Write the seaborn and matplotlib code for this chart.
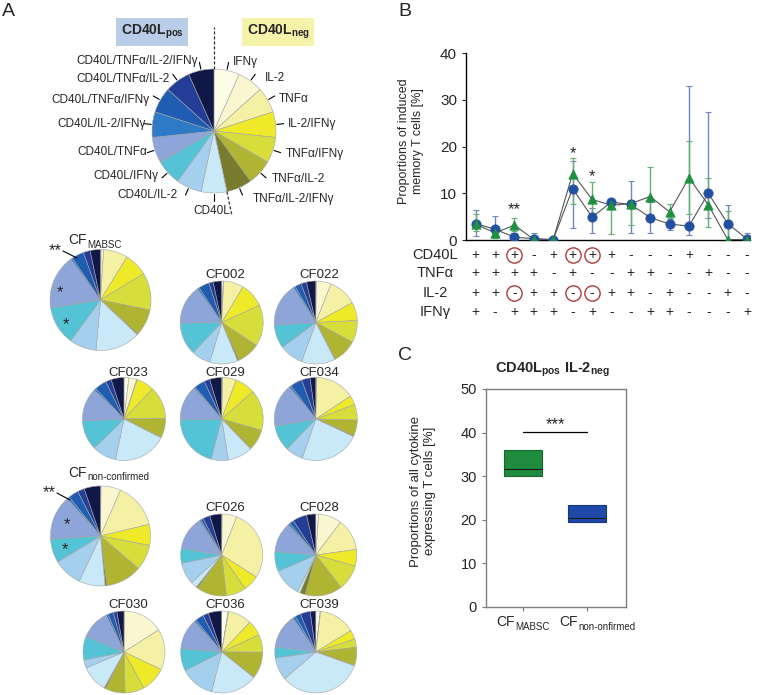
import numpy as np
import pandas as pd
import matplotlib
matplotlib.use("Agg")
import matplotlib.pyplot as plt
import seaborn as sns

sns.set_style("white")
plt.rcParams['font.family'] = ['Liberation Sans', 'DejaVu Sans']
plt.rcParams['mathtext.fontset'] = 'custom'
plt.rcParams['mathtext.rm'] = 'Liberation Sans'
plt.rcParams['mathtext.bf'] = 'Liberation Sans:bold'
plt.rcParams['mathtext.it'] = 'Liberation Sans:italic'

# ---------------- data ----------------
combos = ["IFNγ", "IL-2", "TNFα", "IL-2/IFNγ", "TNFα/IFNγ", "TNFα/IL-2", "TNFα/IL-2/IFNγ",
          "CD40L", "CD40L/IL-2", "CD40L/IFNγ", "CD40L/TNFα", "CD40L/IL-2/IFNγ",
          "CD40L/TNFα/IFNγ", "CD40L/TNFα/IL-2", "CD40L/TNFα/IL-2/IFNγ"]
combo_colors = ["#FDFCE6", "#F9F6D0", "#F4F0A4", "#EEEA2A", "#D7DD3A", "#AFB433", "#787C2C",
                "#C9E8F8", "#A4D0EE", "#55C3D6", "#8DA5D8", "#2E7AC6", "#1F5DB3", "#243E98", "#101848"]

# pie compositions (% of cytokine-expressing cells, order as in combos)
cf_mabsc = [0.2, 0.8, 7.8, 7.5, 11.9, 8.6, 0.3, 14.4, 8.6, 12.5, 17.5, 0.6, 3.9, 2.2, 3.3]
cf002 = [0.6, 0.2, 7.8, 9.7, 16.1, 8.9, 0.6, 11.0, 7.4, 12.8, 15.3, 0.8, 4.2, 1.7, 3.3]
cf022 = [0.2, 5.8, 11.1, 7.2, 8.6, 9.4, 0.2, 13.1, 9.3, 9.2, 16.9, 0.8, 2.5, 2.2, 3.6]
cf023 = [1.9, 3.1, 0.2, 6.9, 12.7, 7.6, 0.1, 20.8, 9.4, 11.6, 13.0, 0.8, 4.7, 2.2, 5.0]
cf029 = [0.2, 0.2, 5.3, 7.9, 16.0, 8.3, 0.1, 9.7, 6.7, 20.8, 13.6, 0.6, 4.2, 2.2, 4.7]
cf034 = [0.2, 0.2, 15.3, 3.6, 6.1, 6.1, 0.4, 23.3, 6.9, 10.0, 16.7, 0.8, 4.7, 3.3, 2.2]
cf_nonconf = [0.2, 6.4, 14.7, 6.8, 8.3, 11.7, 0.6, 8.5, 9.3, 7.8, 14.4, 0.8, 3.3, 2.2, 5.3]
cf026 = [0.2, 5.8, 28.1, 6.3, 7.9, 11.9, 0.6, 2.5, 8.6, 5.8, 13.3, 0.6, 1.1, 2.8, 4.7]
cf028 = [1.1, 9.2, 12.5, 6.5, 10.1, 14.7, 2.1, 1.1, 11.1, 7.8, 11.9, 0.8, 1.7, 5.6, 3.6]
cf030 = [0.2, 15.8, 16.1, 10.0, 7.6, 7.9, 0.6, 10.6, 3.2, 9.3, 11.7, 0.8, 2.2, 1.4, 2.8]
cf036 = [2.5, 0.2, 9.4, 6.1, 6.9, 10.6, 0.1, 18.3, 13.6, 8.8, 12.1, 0.8, 3.3, 2.2, 5.3]
cf039 = [1.7, 0.2, 14.4, 3.6, 3.3, 7.2, 0.1, 33.3, 8.9, 4.4, 13.6, 1.1, 2.2, 3.9, 2.2]

# panel B
row_names = ["CD40L", "TNFα", "IL-2", "IFNγ"]
row_cd40l = ["+", "+", "+", "-", "+", "+", "+", "+", "-", "-", "-", "+", "-", "-", "-"]
row_tnfa = ["+", "+", "+", "+", "-", "+", "-", "-", "+", "+", "-", "-", "+", "-", "-"]
row_il2 = ["+", "+", "-", "+", "+", "-", "-", "+", "+", "-", "+", "-", "-", "+", "-"]
row_ifng = ["+", "-", "+", "+", "+", "-", "+", "-", "-", "+", "+", "-", "-", "-", "+"]
circled_cols = [2, 5, 6]
blue_mean = [3.5, 2.3, 0.6, 0.3, 0.1, 11.0, 4.9, 8.1, 7.6, 4.8, 3.4, 3.0, 10.0, 3.5, 0.2]
blue_lo = [0.9, 0.6, 0.0, 0.0, 0.0, 2.5, 1.4, 7.2, 1.4, 1.6, 2.2, 1.1, 4.8, 0.0, 0.0]
blue_hi = [6.4, 5.1, 1.5, 1.6, 0.2, 17.0, 6.8, 8.8, 12.6, 8.2, 4.8, 33.0, 27.3, 7.4, 1.6]
green_mean = [3.4, 1.5, 3.2, 0.1, 0.1, 14.2, 8.7, 7.4, 7.8, 9.3, 6.0, 13.3, 7.5, 0.1, 0.1]
green_lo = [2.0, 0.5, 1.9, 0.0, 0.0, 7.7, 5.5, 1.2, 3.2, 4.0, 4.5, 5.5, 2.7, 0.0, 0.0]
green_hi = [5.5, 3.0, 4.8, 0.7, 0.2, 17.6, 12.5, 8.8, 8.6, 15.6, 7.6, 21.2, 13.2, 6.1, 0.5]
b_stars = {2: ("**", 6.6), 5: ("*", 18.5), 6: ("*", 13.6)}

# panel C
c_groups = ["MABSC", "non-onfirmed"]
c_q1 = [30.0, 19.4]
c_med = [31.7, 20.3]
c_q3 = [36.0, 23.5]

# ---------------- figure ----------------
W, H = 759, 695
fig = plt.figure(figsize=(W / 100, H / 100), dpi=100)


def pax(l, t, r, b):
    return fig.add_axes([l / W, 1 - b / H, (r - l) / W, (b - t) / H])


def ftext(x, y, s, **kw):
    return fig.text(x / W, 1 - y / H, s, **kw)


def fline(xs, ys, **kw):
    fig.add_artist(plt.Line2D([x / W for x in xs], [1 - y / H for y in ys],
                              transform=fig.transFigure, **kw))


def draw_pie(cx, cy, r, vals):
    pad = 1.03
    ax = pax(cx - r * pad, cy - r * pad, cx + r * pad, cy + r * pad)
    ax.pie(vals, colors=combo_colors, startangle=90, counterclock=False,
           wedgeprops=dict(edgecolor="#a5a5a5", linewidth=0.4))
    ax.set_xlim(-pad, pad)
    ax.set_ylim(-pad, pad)
    ax.set_aspect("equal")
    ax.axis("off")
    return ax


# panel letters
ftext(8, 12, "A", fontsize=14, ha="center", va="center")
ftext(405, 12, "B", fontsize=14, ha="center", va="center")
ftext(405, 356, "C", fontsize=14, ha="center", va="center")

# ---- reference pie ----
RCX, RCY, RR = 214, 131, 62
axr = draw_pie(RCX, RCY, RR, [1] * 15)
# label anchor positions (pixels) and alignment
label_pos = [(233, 62, "left"), (265, 78, "left"), (279, 99, "left"), (288, 124, "left"),
             (286, 154, "left"), (272, 179, "left"), (253, 199, "left"), (212, 211, "center"),
             (178, 195, "right"), (158, 176, "right"), (147, 152, "right"), (146, 124, "right"),
             (150, 100, "right"), (170, 79, "right"), (198, 61, "right")]
for i, lab in enumerate(combos):
    ang = np.deg2rad(90 - (i + 0.5) * 24)
    dx, dy = np.cos(ang), np.sin(ang)
    axr.plot([1.02 * dx, 1.13 * dx], [1.02 * dy, 1.13 * dy], color="black", lw=0.8, clip_on=False)
    x, y, ha = label_pos[i]
    ftext(x, y, lab, ha=ha, va="center", fontsize=8.5)
# dashed separators
axr.plot([0, 0], [1.0, 1.68], color="#333333", lw=0.9, ls=(0, (2.5, 1.5)), clip_on=False)
a = np.deg2rad(90 - 168)
axr.plot([np.cos(a), 1.4 * np.cos(a)], [np.sin(a), 1.4 * np.sin(a)], color="#333333", lw=0.9,
         ls=(0, (2.5, 1.5)), clip_on=False)

ftext(152, 32, r"CD40L$_{\mathbf{pos}}$", fontsize=10, weight="bold", ha="center", va="center",
      bbox=dict(boxstyle="square,pad=0.32", facecolor="#B9CDE8", edgecolor="none"))
ftext(278, 32, r"CD40L$_{\mathbf{neg}}$", fontsize=10, weight="bold", ha="center", va="center",
      bbox=dict(boxstyle="square,pad=0.32", facecolor="#F5F3AA", edgecolor="none"))

# ---- patient pies ----
draw_pie(100.5, 300, 50.5, cf_mabsc)
draw_pie(221.7, 322.5, 41.5, cf002)
draw_pie(315.8, 322.5, 41.5, cf022)
draw_pie(124, 419, 41.5, cf023)
draw_pie(221.7, 419, 41.5, cf029)
draw_pie(315.8, 419, 41.5, cf034)
draw_pie(100.5, 536, 50, cf_nonconf)
draw_pie(221.7, 555, 41, cf026)
draw_pie(315.8, 555, 41, cf028)
draw_pie(124, 652, 41, cf030)
draw_pie(221.7, 652, 41, cf036)
draw_pie(315.8, 652, 41, cf039)

for name, x, y in [("CF002", 225.5, 275), ("CF022", 319.5, 275), ("CF023", 128, 373),
                   ("CF029", 225.5, 373), ("CF034", 319.5, 373), ("CF026", 225.5, 508),
                   ("CF028", 319.5, 508), ("CF030", 128, 605), ("CF036", 225.5, 605),
                   ("CF039", 319.5, 605)]:
    ftext(x, y, name, fontsize=9.5, ha="center", va="center")

# group pie titles (CF + subscript)
ftext(87, 240, "CF", fontsize=10, ha="right", va="center")
ftext(87, 244.5, "MABSC", fontsize=7, ha="left", va="center")
ftext(87, 473, "CF", fontsize=10, ha="right", va="center")
ftext(87, 477.5, "non-confirmed", fontsize=7, ha="left", va="center")

# significance marks on pies
ftext(55, 251, "**", fontsize=12, ha="center", va="center")
fline([63, 77], [251, 258], color="black", lw=0.8)
ftext(60, 293, "*", fontsize=12, ha="center", va="center")
ftext(66, 325, "*", fontsize=12, ha="center", va="center")
ftext(49, 493, "**", fontsize=12, ha="center", va="center")
fline([57, 70], [493, 500], color="black", lw=0.8)
ftext(67, 525, "*", fontsize=12, ha="center", va="center")
ftext(65, 550, "*", fontsize=12, ha="center", va="center")

# ---------------- panel B ----------------
axB = pax(466, 53, 750, 240)
xi = np.arange(len(blue_mean))
dfb = pd.DataFrame({"x": np.concatenate([xi, xi]),
                    "y": blue_mean + green_mean,
                    "grp": ["non-confirmed"] * 15 + ["MABSC"] * 15})
bm, gm = np.array(blue_mean), np.array(green_mean)
axB.errorbar(xi, bm, yerr=[bm - np.array(blue_lo), np.array(blue_hi) - bm], fmt="none",
             ecolor="#6F86C2", elinewidth=1, capsize=2, capthick=0.8, zorder=2)
axB.errorbar(xi, gm, yerr=[gm - np.array(green_lo), np.array(green_hi) - gm], fmt="none",
             ecolor="#62B173", elinewidth=1, capsize=2, capthick=0.8, zorder=2)
sns.lineplot(data=dfb, x="x", y="y", units="grp", estimator=None, color="#555555", lw=0.8,
             ax=axB, zorder=3, legend=False)
sns.scatterplot(x=xi, y=bm, marker="o", s=45, color="#2350A3", edgecolor="#2350A3", ax=axB, zorder=4)
sns.scatterplot(x=xi, y=gm, marker="^", s=45, color="#1F9040", edgecolor="#1F9040", ax=axB, zorder=5)
axB.set_xlim(-0.5, 14.15)
axB.set_ylim(0, 40)
axB.set_yticks([0, 10, 20, 30, 40])
axB.set_xticks([])
axB.set_xlabel("")
axB.tick_params(axis="y", labelsize=11, direction="out", length=3, left=True, width=0.8)
sns.despine(ax=axB)
for s in ["left", "bottom"]:
    axB.spines[s].set_color("black")
    axB.spines[s].set_linewidth(1.0)
axB.set_ylabel("Proportions of induced\nmemory T cells [%]", fontsize=9)
axB.yaxis.set_label_coords(-0.148, 0.53)
for i, (s, yv) in b_stars.items():
    axB.text(i, yv, s, ha="center", va="center", fontsize=12)

row_ys = [255, 273, 293, 312]
for rname, vals, ypx in zip(row_names, [row_cd40l, row_tnfa, row_il2, row_ifng], row_ys):
    ftext(435, ypx, rname, fontsize=10.5, ha="center", va="center")
    ya = (240 - ypx) / 187
    for i, v in enumerate(vals):
        axB.text(i, ya, v, transform=axB.get_xaxis_transform(), ha="center", va="center",
                 fontsize=10, clip_on=False)
for ypx in [255, 293]:
    ya = (240 - ypx) / 187
    for c in circled_cols:
        axB.plot([c], [ya], marker="o", ms=11, mfc="none", mec="#B03A3A", mew=1.0,
                 transform=axB.get_xaxis_transform(), clip_on=False)

# ---------------- panel C ----------------
axC = pax(486, 389, 626, 607)
stats = []
for q1, med, q3 in zip(c_q1, c_med, c_q3):
    stats.append(dict(med=med, q1=q1, q3=q3, whislo=q1, whishi=q3, fliers=[]))
bp = axC.bxp(stats, positions=[0, 1], widths=0.59, patch_artist=True, showcaps=False,
             showfliers=False, medianprops=dict(color="#1a1a1a", lw=0.8),
             whiskerprops=dict(lw=0))
for patch, fc, ec in zip(bp["boxes"], ["#1F8B3F", "#1F48A8"], ["#146A2C", "#163682"]):
    patch.set_facecolor(fc)
    patch.set_edgecolor(ec)
    patch.set_linewidth(0.8)
axC.set_xlim(-0.58, 1.61)
axC.set_ylim(0, 50)
axC.set_yticks([0, 10, 20, 30, 40, 50])
axC.set_xticks([0, 1])
axC.set_xticklabels(["", ""])
axC.tick_params(axis="both", labelsize=10.5, direction="out", length=3, left=True, bottom=True,
                width=0.8, color="#777777")
for s in axC.spines.values():
    s.set_color("#7f7f7f")
    s.set_linewidth(1.0)
axC.set_ylabel("Proportions of all cytokine\nexpressing T cells [%]", fontsize=9.5)
axC.yaxis.set_label_coords(-0.357, 0.532)
axC.plot([0, 1], [40.2, 40.2], color="black", lw=0.9)
axC.text(0.5, 41.8, "***", ha="center", va="center", fontsize=12)
ftext(552, 370, r"CD40L$_{\mathbf{pos}}$ IL-2$_{\mathbf{neg}}$", fontsize=10.5, weight="bold",
      ha="center", va="center")
# x labels with subscripts
ftext(515, 622, "CF", fontsize=10, ha="right", va="center")
ftext(515, 626.5, c_groups[0], fontsize=7, ha="left", va="center")
ftext(578, 622, "CF", fontsize=10, ha="right", va="center")
ftext(578, 626.5, c_groups[1], fontsize=7, ha="left", va="center")

fig.savefig("out.png", dpi=100)
